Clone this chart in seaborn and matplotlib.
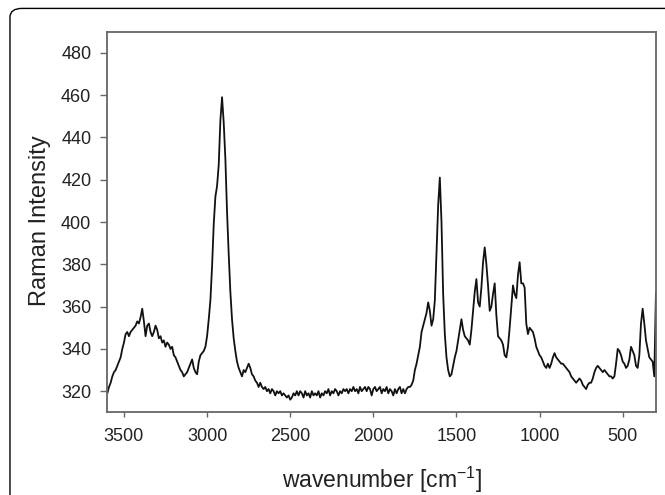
import numpy as np
import pandas as pd
import matplotlib
matplotlib.use('Agg')
import matplotlib.pyplot as plt
import seaborn as sns
from matplotlib.patches import FancyBboxPatch

# Raman spectrum in 10 cm-1 steps (high -> low wavenumber)
oh_wn = np.arange(3600, 3005, -10)
oh_int = [319, 322, 324, 327, 329, 330, 332, 334, 336, 340,
          343, 347, 348, 346, 348, 349, 350, 351, 353, 352,
          355, 359, 353, 346, 351, 352, 348, 346, 348, 351,
          349, 345, 346, 343, 344, 341, 343, 342, 340, 341,
          337, 336, 334, 332, 330, 329, 327, 328, 329, 331,
          333, 335, 331, 329, 328, 334, 337, 338, 339, 341]

ch_wn = np.arange(3000, 2695, -10)
ch_int = [346, 354, 363, 379, 399, 412, 417, 427, 448, 459,
          447, 430, 405, 385, 367, 354, 345, 339, 334, 331,
          329, 327, 330, 329, 331, 333, 331, 328, 327, 325,
          324]

silent_wn = np.arange(2690, 1755, -10)
silent_int = [322, 324, 322, 321, 322, 320, 321, 319, 321, 320,
              318, 320, 319, 320, 318, 319, 318, 317, 318, 316,
              317, 319, 318, 320, 318, 320, 319, 317, 320, 318,
              319, 317, 320, 318, 319, 318, 320, 317, 319, 318,
              320, 319, 321, 318, 320, 319, 321, 320, 318, 320,
              319, 321, 320, 321, 319, 321, 320, 322, 320, 321,
              319, 322, 320, 321, 322, 320, 322, 321, 318, 321,
              322, 320, 321, 322, 319, 321, 320, 322, 319, 321,
              320, 318, 321, 319, 321, 322, 319, 321, 319, 321,
              322, 322, 323, 325]

fp_wn = np.arange(1750, 295, -10)
fp_int = [330, 333, 337, 341, 348, 351, 354, 357, 362, 358,
          351, 354, 363, 385, 408, 421, 400, 366, 347, 336,
          330, 327, 328, 332, 336, 339, 344, 349, 354, 349,
          346, 345, 344, 342, 349, 358, 367, 373, 362, 360,
          369, 381, 388, 380, 370, 358, 360, 366, 371, 356,
          346, 345, 344, 342, 337, 336, 341, 350, 360, 370,
          366, 364, 375, 381, 371, 371, 369, 352, 347, 350,
          349, 348, 345, 341, 339, 337, 336, 334, 332, 331,
          333, 331, 333, 336, 338, 336, 335, 334, 333, 333,
          332, 331, 330, 329, 327, 326, 325, 324, 325, 326,
          325, 323, 322, 321, 323, 324, 324, 326, 329, 331,
          332, 331, 330, 329, 330, 329, 328, 327, 327, 326,
          327, 333, 340, 339, 337, 334, 333, 331, 332, 335,
          341, 339, 337, 332, 331, 337, 352, 359, 352, 344,
          340, 336, 335, 334, 327, 367]

x_ticks = [3500, 3000, 2500, 2000, 1500, 1000, 500]
y_ticks = [320, 340, 360, 380, 400, 420, 440, 460, 480]

df = pd.DataFrame({
    'wavenumber': np.concatenate([oh_wn, ch_wn, silent_wn, fp_wn]),
    'intensity': np.concatenate([oh_int, ch_int, silent_int, fp_int]),
})

sns.set_style('ticks')
plt.rcParams['font.family'] = ['Liberation Sans', 'DejaVu Sans']
plt.rcParams['mathtext.default'] = 'regular'

fig = plt.figure(figsize=(6.65, 4.95), dpi=100)
ax = fig.add_axes([0.1614, 0.167, 0.825, 0.769])

sns.lineplot(data=df, x='wavenumber', y='intensity', color='#111111',
             linewidth=1.3, estimator=None, ax=ax)

ax.set_xlim(3600, 300)
ax.set_ylim(310, 490)
ax.set_xticks(x_ticks)
ax.set_yticks(y_ticks)

for side in ['left', 'right', 'top', 'bottom']:
    ax.spines[side].set_visible(True)
    ax.spines[side].set_color('#666666')
    ax.spines[side].set_linewidth(1.3)

ax.tick_params(axis='both', direction='out', color='#666666',
               labelcolor='#222222', labelsize=13, width=1.0)
ax.tick_params(axis='x', length=3.6, pad=7.5)
ax.tick_params(axis='y', length=5, pad=6.5)

ax.set_xlabel('wavenumber [cm$^{-1}$]', fontsize=16.5, color='#222222')
ax.set_ylabel('Raman Intensity', fontsize=17, color='#222222')
ax.xaxis.set_label_coords(0.5, -0.178)
ax.xaxis.label.set_va('center')
ax.yaxis.set_label_coords(-0.123, 0.503)
ax.yaxis.label.set_va('center')

# rounded frame around the panel, running off the right and bottom edges
frame = FancyBboxPatch((0.015, -0.2), 1.2, 1.183,
                       boxstyle='round,pad=0,rounding_size=0.018',
                       transform=fig.transFigure, fill=False,
                       edgecolor='black', linewidth=1.0)
fig.add_artist(frame)

fig.savefig('out.png', dpi=100)
